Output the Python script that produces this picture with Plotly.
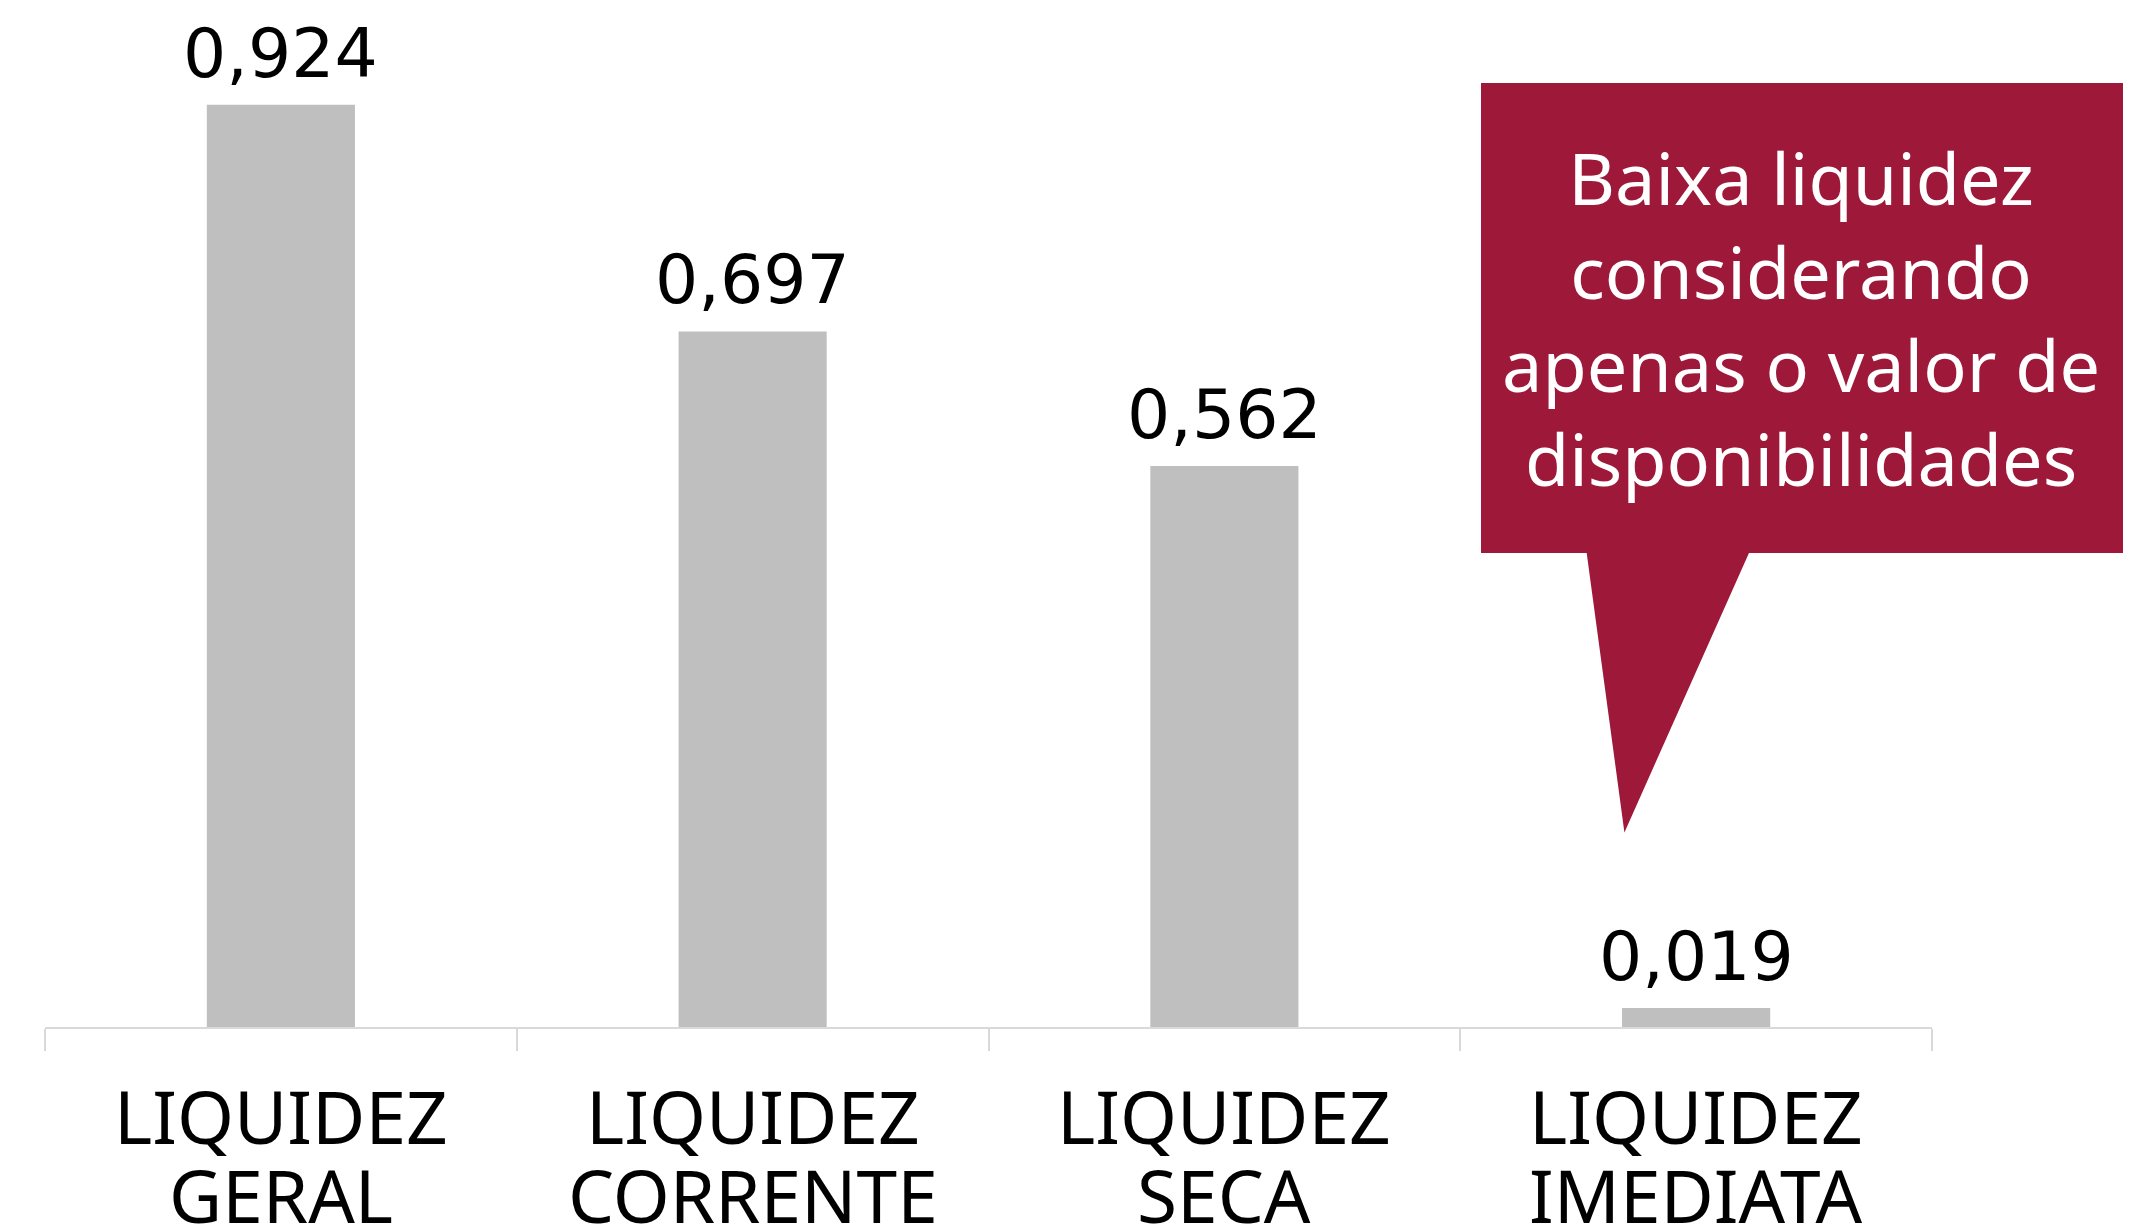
import plotly.graph_objects as go

BAR_GREY = "#BFBFBF"
WINE     = "#9E1839"
AXIS     = "#D9D9D9"

line1  = ["LIQUIDEZ", "LIQUIDEZ", "LIQUIDEZ", "LIQUIDEZ"]
line2  = ["GERAL", "CORRENTE", "SECA", "IMEDIATA"]
values = [0.924, 0.697, 0.562, 0.019]
labels = ["0,924", "0,697", "0,562", "0,019"]

categories = [a + " " + b for a, b in zip(line1, line2)]

callout_text = "Baixa liquidez<br>considerando<br>apenas o valor de<br>disponibilidades"

fig = go.Figure(go.Bar(
    x=categories, y=values,
    marker=dict(color=BAR_GREY, line=dict(width=0)),
    hoverinfo="skip",
))

# value labels above bars
for cat, val, lab in zip(categories, values, labels):
    fig.add_annotation(
        x=cat, y=val, text=lab, showarrow=False,
        yanchor="bottom", yshift=10,
        font=dict(family="DejaVu Sans", size=68, color="black"),
    )

# two-line category labels (tighter line spacing than plotly tick labels)
for cat, a, b in zip(categories, line1, line2):
    fig.add_annotation(
        x=cat, xref="x", y=0, yref="paper", text=a, showarrow=False,
        yanchor="middle", yshift=-88,
        font=dict(family="Noto Sans", size=73, color="black"),
    )
    fig.add_annotation(
        x=cat, xref="x", y=0, yref="paper", text=b, showarrow=False,
        yanchor="middle", yshift=-167,
        font=dict(family="Noto Sans", size=73, color="black"),
    )

# speech-bubble callout pointing at the last bar
fig.add_shape(
    type="path", xref="paper", yref="paper",
    path=("M 0.761 0.946 L 1.104 0.946 L 1.104 0.475 L 0.903 0.475 "
          "L 0.837 0.195 L 0.817 0.475 L 0.761 0.475 Z"),
    fillcolor=WINE, line=dict(width=0), layer="above",
)
fig.add_annotation(
    xref="paper", yref="paper", x=0.9305, y=0.7105,
    text=callout_text, showarrow=False,
    xanchor="center", yanchor="middle", align="center",
    font=dict(family="Noto Sans", size=72, color="white"),
)

fig.update_layout(
    width=2131, height=1231,
    plot_bgcolor="white", paper_bgcolor="white",
    showlegend=False,
    bargap=0.686,
    margin=dict(l=37, r=207, t=21, b=212),
    xaxis=dict(
        showline=True, linecolor=AXIS, linewidth=2,
        ticks="outside", tickson="boundaries", ticklen=22,
        tickcolor=AXIS, tickwidth=2,
        showticklabels=False,
        showgrid=False,
    ),
    yaxis=dict(range=[0, 1.0], visible=False, showgrid=False),
)

fig.write_html("out.html")
